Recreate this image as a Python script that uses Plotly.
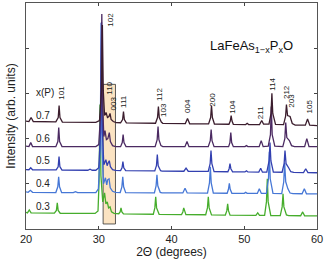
import plotly.graph_objects as go

# ---- data (2-theta in degrees, intensity in arb. units) ----
compositions = ["0.3", "0.4", "0.5", "0.6", "0.7"]
offsets = [13, 35, 56, 80, 103]
colors = ["#46ad2c", "#4677d6", "#3340b0", "#4b2a62", "#3b1d2d"]

x_03 = [20, 20.2, 20.45, 20.7, 23.9, 24.18, 24.3, 24.42, 24.7, 29.5, 29.9, 30.05, 30.17, 30.3,
        30.55, 30.8, 30.98, 31.17, 31.35, 31.55, 31.75, 32.1, 32.75, 32.94, 33.06, 33.18, 33.4,
        37.5, 37.71, 37.83, 37.95, 38.3, 41.38, 41.56, 41.68, 41.8, 41.98,
        44.7, 44.94, 45.06, 45.18, 45.5, 47.4, 47.6, 47.72, 47.84, 48.05,
        51.6, 51.85, 52.1, 52.8, 53.05, 53.17, 53.29, 53.65,
        54.95, 55.21, 55.33, 55.45, 55.8, 56.1, 57.75, 58.03, 58.3, 60]
y_03 = [3.5, 3, 6, 3, 2.8, 5.5, 13, 5.5, 2.7, 2.5, 5, 35, 111, 40,
        14, 23, 12, 14, 8, 9, 4, 2.5, 2.2, 4, 8, 4, 2,
        1.7, 8, 19, 8, 1.6, 1.4, 4, 8, 4, 1.3,
        1.2, 8, 19, 8, 1.1, 0.9, 5, 12, 5, 0.8,
        0.6, 3, 0.5, 0.5, 14, 37, 14, 0.4,
        0.3, 9, 22, 9, 1, 0.3, 0.2, 4, 0.1, 0]

x_04 = [20, 20.3, 20.6, 20.9, 24.1, 24.37, 24.49, 24.61, 24.9, 26.5, 26.8, 27.1, 29.6, 29.95,
        30.2, 30.33, 30.45, 30.65, 30.92, 31.1, 31.22, 31.42, 31.58, 31.9, 32.3,
        32.95, 33.18, 33.3, 33.42, 33.7, 37.65, 37.88, 38.0, 38.12, 38.45, 38.7,
        41.56, 41.86, 42.16, 44.95, 45.22, 45.34, 45.46, 45.75,
        47.65, 47.83, 47.95, 48.07, 48.3, 50.0, 50.2, 50.4, 51.8, 52.07, 52.35,
        53.05, 53.33, 53.45, 53.57, 53.95, 55.15, 55.43, 55.55, 55.7, 56.0, 56.3, 56.7,
        57.95, 58.26, 58.55, 60]
y_04 = [2, 1.5, 3.5, 1.5, 1.3, 7, 17, 7, 1.2, 1.2, 2.2, 1.2, 1.2, 5,
        45, 170, 45, 10, 16, 9, 14, 15, 6, 2.5, 1.5,
        1.3, 7, 17, 7, 1.2, 1, 8, 19, 8, 1.5, 1,
        0.9, 5.5, 0.9, 0.8, 11, 27, 11, 0.8,
        0.6, 4.5, 10.5, 4.5, 0.6, 0.5, 1.5, 0.5, 0.4, 5, 0.4,
        0.5, 15, 42, 15, 0.5, 0.3, 12, 31, 12, 5, 0.8, 0.2,
        0.1, 5, 0.1, 0]

x_05 = [20, 20.4, 20.65, 20.9, 24.15, 24.42, 24.54, 24.66, 24.95, 28.5, 28.8, 29.1, 29.6, 30.0,
        30.25, 30.38, 30.5, 30.7, 30.98, 31.15, 31.3, 31.45, 31.6, 31.9, 32.3,
        33.0, 33.2, 33.32, 33.44, 33.7, 37.7, 37.93, 38.05, 38.17, 38.5, 38.7,
        41.7, 42.0, 42.3, 45.05, 45.31, 45.43, 45.55, 45.85,
        47.75, 47.92, 48.04, 48.16, 48.4, 50.1, 50.3, 50.5, 52.0, 52.26, 52.5,
        53.1, 53.42, 53.54, 53.66, 54.0, 55.2, 55.48, 55.6, 55.75, 56.1, 56.4, 56.8,
        58.15, 58.45, 58.75, 60]
y_05 = [3.2, 3, 5, 3, 2.8, 6, 16, 6, 2.7, 2.5, 3.5, 2.5, 2.5, 5,
        40, 150, 40, 8, 13, 7, 10, 12, 6, 3, 2.3,
        2.2, 5, 11, 5, 2.1, 1.8, 7, 18, 7, 2, 1.7,
        1.5, 4.5, 1.5, 1.3, 9, 22, 9, 1.2,
        1, 4, 9, 4, 1, 0.8, 2, 0.8, 0.6, 4.5, 0.6,
        0.6, 12, 30, 12, 0.6, 0.5, 9, 22, 9, 5, 1, 0.3,
        0.2, 4, 0.2, 0]

x_06 = [20, 20.4, 20.65, 20.9, 24.1, 24.38, 24.5, 24.62, 24.95, 29.6, 30.0,
        30.3, 30.42, 30.55, 30.7, 30.86, 31.05, 31.25, 31.45, 31.6, 31.9, 32.3,
        33.0, 33.23, 33.35, 33.47, 33.75, 37.75, 38.03, 38.15, 38.27, 38.55, 38.8,
        41.85, 42.13, 42.4, 45.05, 45.33, 45.45, 45.57, 45.85,
        47.85, 48.03, 48.15, 48.27, 48.5, 50.1, 50.3, 50.5, 52.05, 52.33, 52.6,
        53.3, 53.6, 53.72, 53.84, 54.2, 55.3, 55.58, 55.7, 55.85, 56.2, 56.5, 56.9,
        58.3, 58.6, 58.9, 60]
y_06 = [2.5, 2, 6, 2, 2, 7, 21, 7, 2, 2, 4,
        40, 134, 40, 12, 18, 9, 10, 16, 7, 3, 2,
        2, 6, 14, 6, 2, 2, 9, 22, 9, 3, 2,
        2, 7, 2, 2, 8, 19, 8, 2,
        2, 6, 16, 6, 2, 2, 3, 2, 2, 8, 2,
        2.5, 14, 42, 14, 2.5, 2, 10, 26, 11, 8, 3, 2,
        2, 10, 2, 2]

x_07 = [20, 20.4, 20.7, 21.0, 24.1, 24.43, 24.55, 24.67, 25.0, 29.6, 30.1,
        30.38, 30.5, 30.62, 30.8, 31.0, 31.2, 31.4, 31.55, 31.7, 32.0, 32.4,
        33.0, 33.28, 33.4, 33.52, 33.8, 37.8, 38.08, 38.2, 38.32, 38.6, 38.8,
        41.9, 42.2, 42.5, 45.1, 45.38, 45.5, 45.62, 45.9,
        47.9, 48.08, 48.2, 48.32, 48.5, 50.2, 50.4, 50.6, 52.1, 52.4, 52.65,
        53.4, 53.68, 53.8, 53.92, 54.3, 55.4, 55.68, 55.8, 55.95, 56.3, 56.6, 57.0,
        58.4, 58.7, 59.0, 60]
y_07 = [4.5, 4, 8, 4, 3.6, 8, 20, 8, 3.5, 3.2, 5,
        35, 100, 35, 10, 13, 8, 9, 12, 6, 4, 3,
        2.8, 6, 14, 6, 2.7, 2.3, 8, 19, 8, 3.5, 2.2,
        1.9, 7, 1.8, 1.6, 8, 20, 8, 1.5,
        1.3, 4.5, 10, 4.5, 1.2, 1, 2.2, 1, 0.9, 5, 1.5,
        1.5, 12, 32, 12, 1.2, 0.9, 9, 21, 10, 9, 2, 0.5,
        0.4, 6.5, 0.3, 0]

xs = [x_03, x_04, x_05, x_06, x_07]
ys = [y_03, y_04, y_05, y_06, y_07]

# composition label positions
comp_label_x = 22.35
comp_label_y = [22, 45, 68, 90, 113]

# peak (hkl) labels
hkl_labels = ["101", "102", "110", "003", "111", "112", "103", "004", "200", "104",
              "211", "114", "212", "203", "105"]
hkl_x = [24.85, 31.5, 31.45, 31.95, 33.4, 38.35, 38.9, 42.2, 45.6, 48.36,
         52.26, 53.86, 55.83, 56.47, 58.9]
hkl_y = [136, 208, 140, 125, 127, 134, 118, 122, 129, 122, 116, 144, 136, 128, 122]

# highlighted region (2-theta range, intensity range)
box_x = [30.6, 32.3]
box_y = [5, 144]

FONT = "Liberation Sans, Arial, sans-serif"

fig = go.Figure()

for comp, off, col, x, y in zip(compositions, offsets, colors, xs, ys):
    fig.add_trace(go.Scatter(
        x=x, y=[off + v for v in y], mode="lines", name=comp,
        line=dict(color=col, width=1.3), showlegend=False, hoverinfo="skip"))

fig.add_shape(type="rect", xref="x", yref="y",
              x0=box_x[0], x1=box_x[1], y0=box_y[0], y1=box_y[1],
              fillcolor="#fbe3c2", line=dict(color="#333333", width=0.8), layer="below")

annotations = []
annotations.append(dict(x=comp_label_x + 0.25, y=136, text="x(P)", showarrow=False,
                        font=dict(size=10, color="#222"), xref="x", yref="y"))
for comp, ly in zip(compositions, comp_label_y):
    annotations.append(dict(x=comp_label_x, y=ly, text=comp, showarrow=False,
                            font=dict(size=10, color="#222"), xref="x", yref="y"))
for lab, lx, ly in zip(hkl_labels, hkl_x, hkl_y):
    annotations.append(dict(x=lx, y=ly, text=lab, showarrow=False, textangle=-90,
                            font=dict(size=8, color="#222"), xref="x", yref="y"))
annotations.append(dict(x=51.0, y=182, text="LaFeAs<sub>1−x</sub>P<sub>x</sub>O",
                        showarrow=False, font=dict(size=13, color="#111"),
                        xref="x", yref="y"))

fig.update_layout(
    width=328, height=265,
    margin=dict(l=26, r=11, t=3, b=36),
    paper_bgcolor="white", plot_bgcolor="white",
    font=dict(family=FONT, color="#222"),
    annotations=annotations,
    xaxis=dict(range=[20, 60], dtick=10, ticks="inside", ticklen=3, tickcolor="#444",
               showline=True, linecolor="#555", linewidth=1, mirror="ticks",
               showgrid=False, zeroline=False,
               tickfont=dict(size=11, color="#222"),
               title=dict(text="2Θ (degrees)", font=dict(size=12, color="#222"), standoff=2)),
    yaxis=dict(range=[0, 225], dtick=45, ticks="inside", ticklen=3, tickcolor="#444",
               showline=True, linecolor="#555", linewidth=1, mirror="ticks",
               showgrid=False, zeroline=False, showticklabels=False,
               title=dict(text="Intensity (arb. units)", font=dict(size=12, color="#222"),
                          standoff=6)),
)

fig.write_html("out.html", config={"displayModeBar": False},
               post_script="document.body.style.margin='0';document.body.style.overflow='hidden';")
